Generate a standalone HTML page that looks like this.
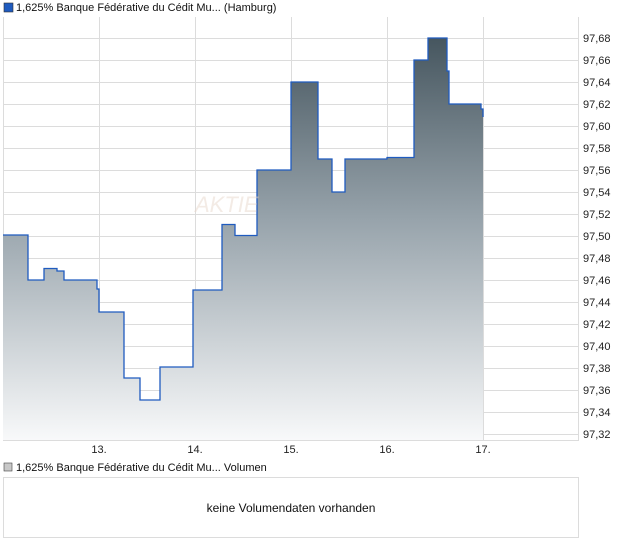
<!DOCTYPE html>
<html><head><meta charset="utf-8"><style>
body{margin:0;width:620px;height:546px;background:#fff;font-family:"Liberation Sans",sans-serif;overflow:hidden}
</style></head><body>
<svg width="620" height="546" xmlns="http://www.w3.org/2000/svg" font-family="Liberation Sans, sans-serif">
<defs><linearGradient id="g" x1="0" y1="38" x2="0" y2="440" gradientUnits="userSpaceOnUse">
<stop offset="0" stop-color="#46565f"/><stop offset="0.45" stop-color="#97a3ab"/><stop offset="1" stop-color="#f8f9fa"/></linearGradient></defs>
<rect x="4" y="3" width="9" height="9" fill="#1f5bbf" stroke="#333" stroke-width="0.6"/>
<text x="16" y="11" font-size="11" fill="#111">1,625% Banque Fédérative du Cédit Mu... (Hamburg)</text>
<g stroke="#dcdcdc" stroke-width="1">
<line x1="3.5" y1="17" x2="3.5" y2="440"/>
<line x1="99.5" y1="17" x2="99.5" y2="440"/><line x1="195.5" y1="17" x2="195.5" y2="440"/>
<line x1="291.5" y1="17" x2="291.5" y2="440"/><line x1="387.5" y1="17" x2="387.5" y2="440"/>
<line x1="483.5" y1="17" x2="483.5" y2="440"/><line x1="578.5" y1="17" x2="578.5" y2="440"/>
<line x1="3" y1="440.5" x2="579" y2="440.5"/>
</g>
<g stroke="#dcdcdc" stroke-width="1">
<line x1="3" y1="38.5" x2="579" y2="38.5"/><line x1="3" y1="60.5" x2="579" y2="60.5"/><line x1="3" y1="82.5" x2="579" y2="82.5"/>
<line x1="3" y1="104.5" x2="579" y2="104.5"/><line x1="3" y1="126.5" x2="579" y2="126.5"/><line x1="3" y1="148.5" x2="579" y2="148.5"/>
<line x1="3" y1="170.5" x2="579" y2="170.5"/><line x1="3" y1="192.5" x2="579" y2="192.5"/><line x1="3" y1="214.5" x2="579" y2="214.5"/>
<line x1="3" y1="236.5" x2="579" y2="236.5"/><line x1="3" y1="258.5" x2="579" y2="258.5"/><line x1="3" y1="280.5" x2="579" y2="280.5"/>
<line x1="3" y1="302.5" x2="579" y2="302.5"/><line x1="3" y1="324.5" x2="579" y2="324.5"/><line x1="3" y1="346.5" x2="579" y2="346.5"/>
<line x1="3" y1="368.5" x2="579" y2="368.5"/><line x1="3" y1="390.5" x2="579" y2="390.5"/><line x1="3" y1="412.5" x2="579" y2="412.5"/>
<line x1="3" y1="434.5" x2="579" y2="434.5"/>
</g>
<g font-size="11" fill="#222">
<text x="583" y="42">97,68</text><text x="583" y="64">97,66</text><text x="583" y="86">97,64</text><text x="583" y="108">97,62</text>
<text x="583" y="130">97,60</text><text x="583" y="152">97,58</text><text x="583" y="174">97,56</text><text x="583" y="196">97,54</text>
<text x="583" y="218">97,52</text><text x="583" y="240">97,50</text><text x="583" y="262">97,48</text><text x="583" y="284">97,46</text>
<text x="583" y="306">97,44</text><text x="583" y="328">97,42</text><text x="583" y="350">97,40</text><text x="583" y="372">97,38</text>
<text x="583" y="394">97,36</text><text x="583" y="416">97,34</text><text x="583" y="438">97,32</text>
<text x="99" y="453" text-anchor="middle">13.</text><text x="195" y="453" text-anchor="middle">14.</text>
<text x="291" y="453" text-anchor="middle">15.</text><text x="387" y="453" text-anchor="middle">16.</text><text x="483" y="453" text-anchor="middle">17.</text>
</g>
<path d="M3,235 H28 V280 H44 V268.5 H57 V271 H64 V280 H97 V289 H99 V312 H124 V378 H140 V400 H160 V367 H193 V290 H222 V224.5 H235 V235.5 H257 V170 H291 V82 H318 V159 H332 V192 H345 V159 H387 V157.5 H414 V60 H428 V38 H447 V71 H449 V104 H481 V109 H483 V117 V440 H3 Z" fill="url(#g)"/>
<path d="M3,235 H28 V280 H44 V268.5 H57 V271 H64 V280 H97 V289 H99 V312 H124 V378 H140 V400 H160 V367 H193 V290 H222 V224.5 H235 V235.5 H257 V170 H291 V82 H318 V159 H332 V192 H345 V159 H387 V157.5 H414 V60 H428 V38 H447 V71 H449 V104 H481 V109 H483 V117" fill="none" stroke="#1f5bbf" stroke-width="1.3"/>
<text x="195" y="212" font-size="22" fill="#e8d8cc" opacity="0.5" font-style="italic">AKTIE</text>
<rect x="4" y="463" width="8" height="8" fill="#c8c8c8" stroke="#444" stroke-width="0.6"/>
<text x="16" y="471" font-size="11" fill="#111">1,625% Banque Fédérative du Cédit Mu... Volumen</text>
<rect x="3.5" y="477.5" width="575" height="60" fill="#fff" stroke="#dcdcdc"/>
<text x="291" y="512" font-size="12" fill="#111" text-anchor="middle">keine Volumendaten vorhanden</text>
</svg>
</body></html>
